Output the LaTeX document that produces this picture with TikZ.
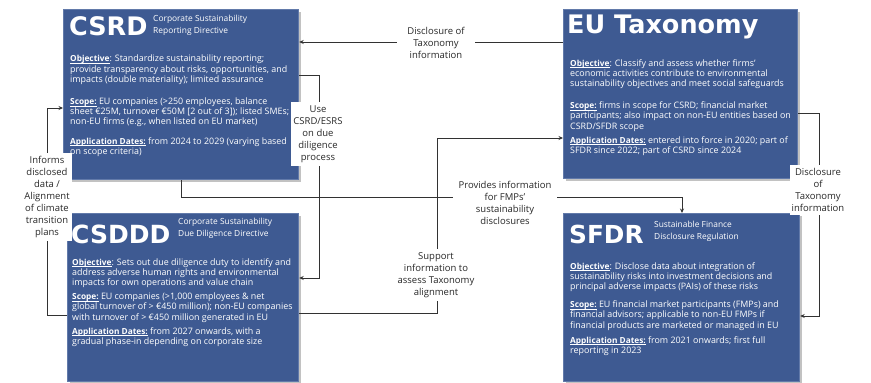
\documentclass[tikz,border=0pt]{standalone}
\usepackage{fontspec}
\setmainfont{Open Sans}
\newfontfamily\titlefont{DejaVu Sans}
\usetikzlibrary{arrows.meta,shadows}
\definecolor{boxblue}{RGB}{62,90,146}
\definecolor{boxedge}{RGB}{98,122,170}
\definecolor{linegray}{RGB}{50,50,50}
\definecolor{lblgray}{RGB}{40,40,40}
\newcommand{\hd}[1]{{\fontsize{8.3}{10.2}\selectfont\setbox0\hbox{\textbf{#1}}\rlap{\rule[-1.6pt]{\wd0}{0.5pt}}\box0}}
\begin{document}
\begin{tikzpicture}[x=1pt,y=1pt,
  box/.style={draw=boxedge, line width=1.2pt, fill=boxblue, anchor=north west, inner sep=0pt,
    drop shadow={shadow xshift=2pt, shadow yshift=-2pt, fill=black!40, opacity=0.6}},
  ttl/.style={font=\titlefont\bfseries\fontsize{25.5}{25.5}\selectfont, text=white, anchor=base west, inner sep=0pt},
  sub/.style={font=\fontsize{8.4}{11.6}\selectfont, text=white, align=left, anchor=north west, inner sep=0pt},
  body/.style={font=\fontsize{8.9}{10.2}\selectfont, text=white, align=left, anchor=north west, inner sep=0pt},
  conn/.style={draw=linegray, line width=0.8pt, -{Stealth[length=4.5pt,width=4pt]}},
  lbl/.style={font=\fontsize{9.5}{12}\selectfont, text=lblgray, align=center, fill=white, inner xsep=2pt, inner ysep=3pt}]
\useasboundingbox (0,0) rectangle (871,-383);
% the four boxes
\node[box, minimum width=235, minimum height=170] (csrd) at (63,-9) {};
\node[box, minimum width=231, minimum height=168] (csddd) at (67,-213) {};
\node[box, minimum width=234, minimum height=169] (tax) at (563,-9) {};
\node[box, minimum width=236, minimum height=168] (sfdr) at (563,-213) {};
% CSRD
\node[ttl] (csrdT) at (69,-35) {CSRD};
\node[sub] (csrdS) at (153,-15) {Corporate Sustainability\\Reporting Directive};
\node[body] (csrdB) at (70,-55) {\hd{Objective}: Standardize sustainability reporting;\\
provide transparency about risks, opportunities, and\\
impacts (double materiality); limited assurance\\[12pt]
\hd{Scope:} EU companies (>250 employees, balance\\
sheet €25M, turnover €50M [2 out of 3]); listed SMEs;\\
non-EU firms (e.g., when listed on EU market)\\[9pt]
\hd{Application Dates:} from 2024 to 2029 (varying based\\
on scope criteria)};
% CSDDD
\node[ttl, font=\titlefont\bfseries\fontsize{25}{25}\selectfont] (csdddT) at (71,-243) {CSDDD};
\node[sub] (csdddS) at (178,-218) {Corporate Sustainability\\Due Diligence Directive};
\node[body] (csdddB) at (72,-258) {\hd{Objective}: Sets out due diligence duty to identify and\\
address adverse human rights and environmental\\
impacts for own operations and value chain\\[4pt]
\hd{Scope:} EU companies (>1,000 employees \& net\\
global turnover of > €450 million); non-EU companies\\
with turnover of > €450 million generated in EU\\[4pt]
\hd{Application Dates:} from 2027 onwards, with a\\
gradual phase-in depending on corporate size};
% EU Taxonomy
\node[ttl] (taxT) at (567,-33) {EU Taxonomy};
\node[body] (taxB) at (570,-59) {\hd{Objective}: Classify and assess whether firms'\\
economic activities contribute to environmental\\
sustainability objectives and meet social safeguards\\[12pt]
\hd{Scope:} firms in scope for CSRD; financial market\\
participants; also impact on non-EU entities based on\\
CSRD/SFDR scope\\[4pt]
\hd{Application Dates:} entered into force in 2020; part of\\
SFDR since 2022; part of CSRD since 2024};
% SFDR
\node[ttl, font=\titlefont\bfseries\fontsize{24.8}{25}\selectfont] (sfdrT) at (569,-243) {SFDR};
\node[sub] (sfdrS) at (654,-221) {Sustainable Finance\\Disclosure Regulation};
\node[body] (sfdrB) at (570,-262) {\hd{Objective}: Disclose data about integration of\\
sustainability risks into investment decisions and\\
principal adverse impacts (PAIs) of these risks\\[8pt]
\hd{Scope:} EU financial market participants (FMPs) and\\
financial advisors; applicable to non-EU FMPs if\\
financial products are marketed or managed in EU\\[5pt]
\hd{Application Dates:} from 2021 onwards; first full\\
reporting in 2023};
% connectors
\draw[conn] (tax.west |- 0,-42) -- (csrd.east |- 0,-42);
\draw[conn] (csrd.east |- 0,-75) -- ++(20,0) |- (csddd.east |- 0,-278);
\draw[conn] (csddd.east |- 0,-313) -- ++(138,0) |- (tax.west |- 0,-138);
\draw[conn] (csrd.south -| 181,0) -- ++(0,-17) -| (sfdr.north -| 682,0);
\draw[conn] (tax.east |- 0,-113) -- ++(21,0) |- (sfdr.east |- 0,-316);
\draw[conn] (csddd.west |- 0,-315) -- ++(-20,0) |- (csrd.west |- 0,-108);
% labels
\node[lbl, inner xsep=10pt] (disclA) at (436,-43) {Disclosure of\\Taxonomy\\information};
\node[lbl] (useEsrs) at (318,-134) {Use\\CSRD/ESRS\\on due\\diligence\\process};
\node[lbl, inner xsep=6pt] (provFmp) at (505,-203) {Provides information\\for FMPs'\\sustainability\\disclosures};
\node[lbl] (suppTax) at (436,-275) {Support\\information to\\assess Taxonomy\\alignment};
\node[lbl] (disclB) at (818,-190) {Disclosure\\of\\Taxonomy\\information};
\node[lbl] (informs) at (47,-197) {Informs\\disclosed\\data /\\Alignment\\of climate\\transition\\plans};
\end{tikzpicture}
\end{document}
